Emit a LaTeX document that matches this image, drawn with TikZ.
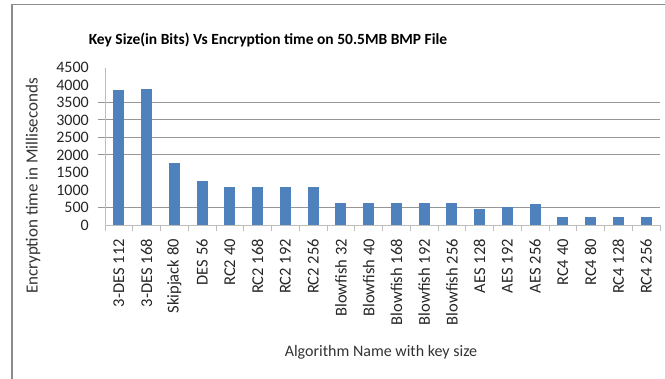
\documentclass[tikz,border=0pt]{standalone}
\usepackage{fontspec}
\setmainfont{Carlito}
\definecolor{barblue}{HTML}{4F81BD}
\definecolor{gridgray}{HTML}{969696}
\definecolor{axisgray}{HTML}{BDBDBD}
\definecolor{framegray}{HTML}{8C8C8C}
\begin{document}
\begin{tikzpicture}[x=1pt,y=-1pt,
  bar/.style={fill=barblue,draw=none},
  gridline/.style={draw=gridgray,line width=1pt},
  axisline/.style={draw=axisgray,line width=0.8pt},
  ticklab/.style={anchor=east,inner sep=0pt,font=\fontsize{16}{16}\selectfont,text=black!85},
  catlab/.style={anchor=east,rotate=90,inner sep=0pt,font=\fontsize{16.5}{16.5}\selectfont,text=black!85},
  axtitle/.style={inner sep=0pt,text=black!80},
  titlestyle/.style={inner sep=0pt,font=\bfseries\fontsize{15.5}{15.5}\selectfont}]
\useasboundingbox[fill=white] (0,0) rectangle (665,379);
% frame
\draw[framegray,line width=1.2pt] (12,379) -- (12,4.5) -- (665,4.5);
% title
\node[titlestyle] (title) at (268,40) {Key Size(in Bits) Vs Encryption time on 50.5MB BMP File};
% gridlines
\foreach \v in {500,2000,2500,3000,3500}{
  \draw[gridline] (98,{225-\v*0.035}) -- (660,{225-\v*0.035});
}
% axes
\draw[axisline] (105,68) -- (105,225) -- (660,225);
\foreach \i in {0,...,20}{
  \draw[axisline] ({105+27.75*\i},225) -- ({105+27.75*\i},231);
}
% y tick labels
\foreach \v in {0,500,...,4500}{
  \node[ticklab] (yt\v) at (89,{225-\v*0.035}) {\v};
}
% bars and labels
\foreach \val/\lab [count=\i from 0] in {3850/3-DES 112,3890/3-DES 168,1770/Skipjack 80,1270/DES 56,1080/RC2 40,1080/RC2 168,1080/RC2 192,1080/RC2 256,620/Blowfish 32,620/Blowfish 40,620/Blowfish 168,620/Blowfish 192,620/Blowfish 256,450/AES 128,520/AES 192,590/AES 256,230/RC4 40,230/RC4 80,230/RC4 128,230/RC4 256}{
  \pgfmathsetmacro{\cx}{105+27.75*(\i+0.5)}
  \fill[bar] ({\cx-5.5},225) rectangle ({\cx+5.5},{225-\val*0.035});
  \node[catlab] (cat\i) at (\cx,239) {\lab};
}
% axis titles
\node[axtitle,rotate=90,font=\fontsize{17}{17}\selectfont] (ytitle) at (33,186) {Encryption time in Milliseconds};
\node[axtitle,font=\fontsize{16}{16}\selectfont] (xtitle) at (381,352) {Algorithm Name with key size};
\end{tikzpicture}
\end{document}
